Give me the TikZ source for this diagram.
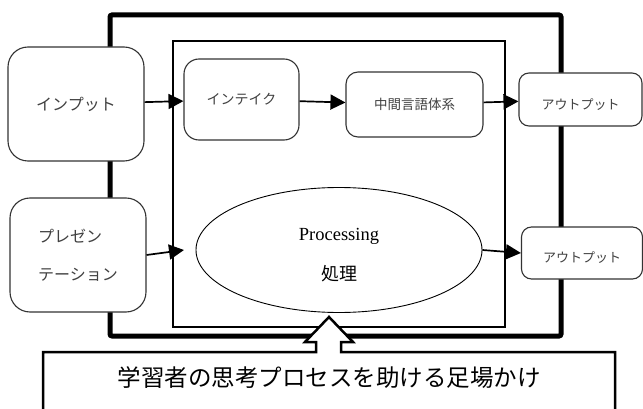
\documentclass[tikz,border=0pt]{standalone}
\usepackage{fontspec}
\setmainfont{Liberation Serif}
\newfontfamily\jp{Noto Sans CJK JP}
\usetikzlibrary{arrows.meta,shapes.geometric}
\begin{document}
\begin{tikzpicture}[x=1pt,y=-1pt,
  box/.style={draw=black!80,line width=1.1pt,fill=white,inner sep=0pt,text=black!75},
  conn/.style={line width=1.7pt,-{Triangle[length=15pt,width=15pt]}},
  outerframe/.style={line width=5pt,rounded corners=2pt},
  innerframe/.style={line width=2.5pt},
  callout/.style={draw,line width=2.5pt,fill=white,line join=miter}]
\useasboundingbox (0,0) rectangle (643,409);
\clip (0,0) rectangle (643,409);
% frames
\draw[outerframe] (110,15) rectangle (561,336);
\draw[innerframe] (173,41) rectangle (505,327);
% boxes
\node[box,rounded corners=20pt,minimum width=136pt,minimum height=114pt,font=\jp\fontsize{16}{19}\selectfont] (input) at (76,104) {インプット};
\node[box,rounded corners=15pt,minimum width=115pt,minimum height=81pt,font=\jp\fontsize{14}{17}\selectfont] (intake) at (241.5,99.5) {インテイク};
\node[box,rounded corners=12pt,minimum width=137pt,minimum height=65pt,font=\jp\fontsize{13.5}{16}\selectfont] (mid) at (414.5,104.5) {中間言語体系};
\node[box,rounded corners=10pt,minimum width=123pt,minimum height=53pt,
  label={[font=\jp\fontsize{13}{16}\selectfont,text=black!75,yshift=-5pt]center:アウトプット}] (out1) at (580.5,99.5) {};
\node[box,rounded corners=20pt,minimum width=136pt,minimum height=114pt,align=left,font=\jp\fontsize{16}{38}\selectfont] (pres) at (78,255) {プレゼン\\テーション};
\node[box,ellipse,draw=black,line width=0.9pt,minimum width=286pt,minimum height=125pt,
  label={[align=center,font=\fontsize{18.5}{40}\selectfont,yshift=-5pt]center:Processing\\{\jp\fontsize{18}{40}\selectfont 処理}}] (proc) at (339,250) {};
\node[box,rounded corners=10pt,minimum width=121pt,minimum height=52pt,
  label={[font=\jp\fontsize{13}{16}\selectfont,text=black!75,yshift=-5pt]center:アウトプット}] (out2) at (582,253) {};
% connectors
\coordinate (procin) at (184,250);
\draw[conn] (input) -- (intake);
\draw[conn] (intake) -- (mid);
\draw[conn] (mid) -- (out1);
\draw[conn] (pres.east) -- (procin);
\draw[conn] (proc.east) -- (out2.west);
% callout
\draw[callout] (43,420) -- (43,352) -- (316,352) -- (316,342) -- (305,342) -- (329,317) -- (353,342) -- (341,342) -- (341,352) -- (615,352) -- (615,420);
\node[font=\jp\fontsize{23.5}{28}\selectfont] (note) at (329,378) {学習者の思考プロセスを助ける足場かけ};
\end{tikzpicture}
\end{document}
